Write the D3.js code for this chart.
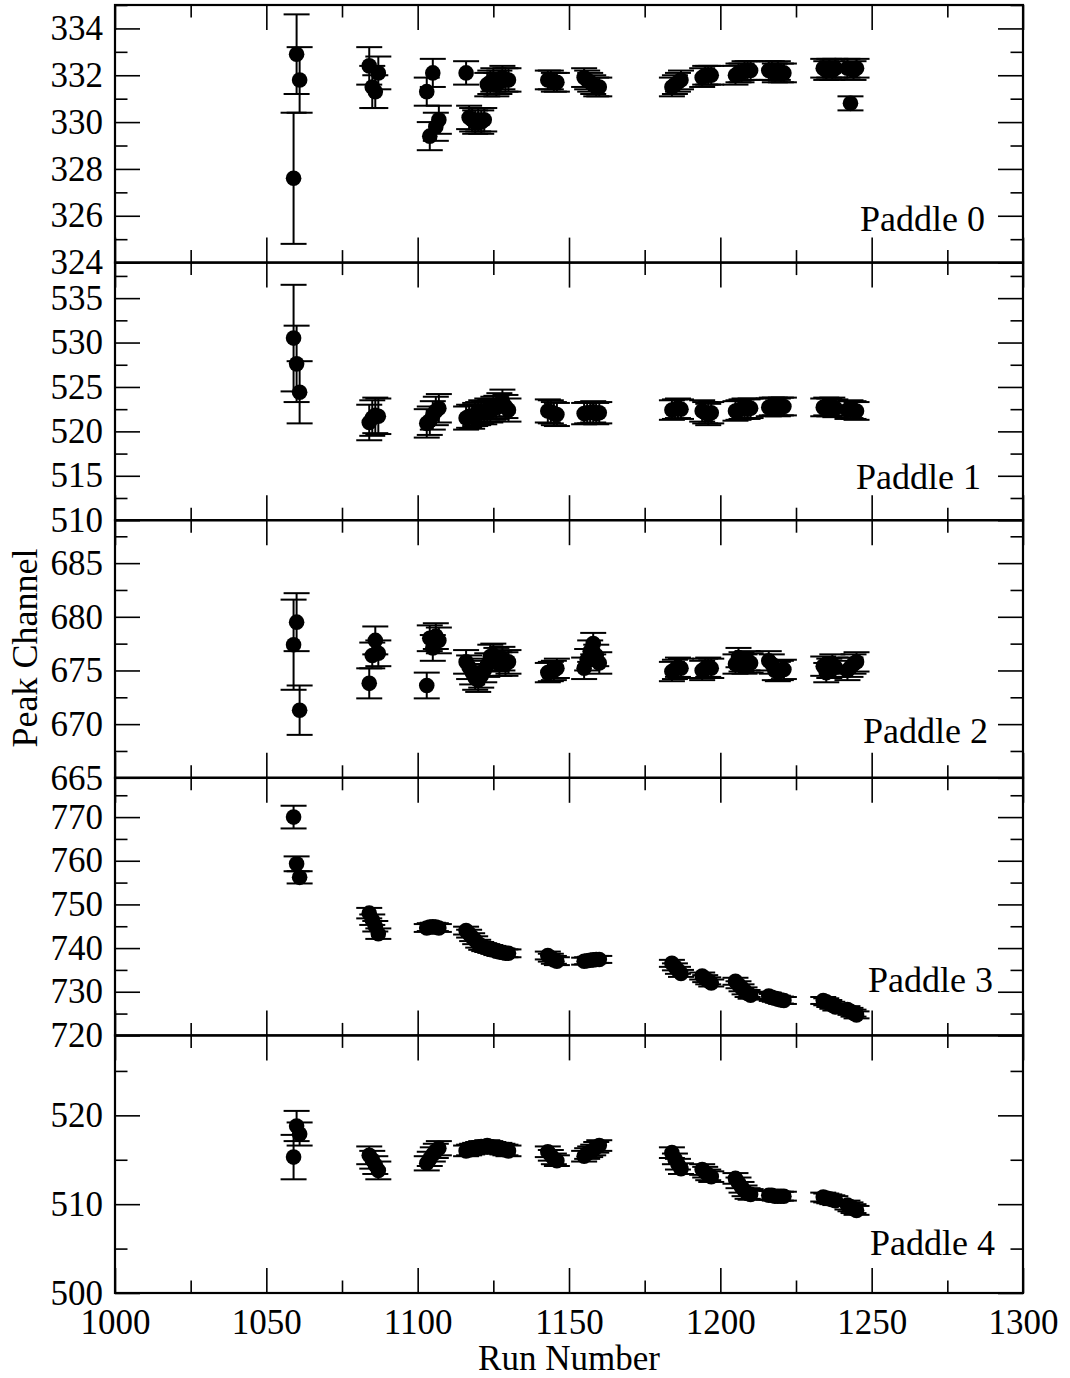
<!DOCTYPE html>
<html>
<head>
<meta charset="utf-8">
<script src="https://cdn.jsdelivr.net/npm/d3@7"></script>
<style>
body { margin: 0; background: #fff; }
svg text { font-family: "Liberation Serif", "Times New Roman", serif; fill: #000; }
</style>
</head>
<body>
<div id="chart"></div>
<script>
// run numbers (shared by all paddles)
var runs = [1059,1060,1061,
  1084,1085,1086,1087,
  1103,1104,1105,1106,1107,
  1116,1117,1118,1119,1120,1121,1122,1123,1124,1125,1126,1127,1128,1129,1130,
  1143,1144,1145,1146,
  1155,1156,1157,1158,1159,1160,
  1184,1185,1186,1187,
  1194,1195,1196,1197,
  1205,1206,1207,1208,1209,1210,
  1216,1217,1218,1219,1220,1221,
  1234,1235,1236,1237,1238,
  1242,1243,1244,1245]

var peak0 = [327.6,332.9,331.8,
  332.4,331.5,331.3,332.1,
  331.3,329.4,332.1,329.8,330.1,
  332.1,330.2,330.1,330.0,330.1,330.0,330.1,331.6,331.7,331.8,331.6,331.7,331.9,331.8,331.8,
  331.8,331.8,331.7,331.7,
  331.9,331.8,331.7,331.6,331.5,331.5,
  331.5,331.6,331.7,331.8,
  331.9,332.0,332.0,332.0,
  332.0,332.1,332.1,332.2,332.2,332.2,
  332.2,332.2,332.1,332.2,332.1,332.1,
  332.3,332.2,332.3,332.2,332.3,
  332.3,330.8,332.2,332.3]
var err0 = [2.8,1.7,1.4,
  0.8,0.9,0.7,0.7,
  0.6,0.6,0.6,0.6,0.6,
  0.5,0.5,0.5,0.5,0.5,0.5,0.5,0.5,0.5,0.5,0.5,0.5,0.5,0.5,0.5,
  0.4,0.4,0.4,0.4,
  0.4,0.4,0.4,0.4,0.4,0.4,
  0.4,0.4,0.4,0.4,
  0.4,0.4,0.4,0.4,
  0.4,0.4,0.4,0.4,0.4,0.4,
  0.4,0.4,0.4,0.4,0.4,0.4,
  0.4,0.4,0.4,0.4,0.4,
  0.4,0.3,0.4,0.4]

var peak1 = [530.5,527.6,524.4,
  521.0,521.5,521.8,521.7,
  520.9,521.2,521.8,522.3,522.6,
  521.5,521.7,521.6,521.9,522.0,522.2,522.1,522.4,522.3,522.6,522.7,523.0,523.4,522.8,522.4,
  522.3,522.2,522.0,521.9,
  522.0,522.1,522.1,522.2,522.0,522.1,
  522.4,522.5,522.6,522.5,
  522.3,522.1,521.9,522.1,
  522.3,522.4,522.5,522.6,522.5,522.6,
  522.7,522.8,522.8,522.7,522.8,522.8,
  522.7,522.8,522.7,522.8,522.6,
  522.4,522.5,522.4,522.3]
var err1 = [6.0,4.3,3.5,
  2.0,2.0,2.0,2.0,
  1.6,1.6,1.6,1.6,1.6,
  1.3,1.3,1.3,1.3,1.3,1.3,1.3,1.3,1.3,1.3,1.3,1.3,1.3,1.3,1.3,
  1.3,1.3,1.3,1.3,
  1.2,1.2,1.2,1.2,1.2,1.2,
  1.1,1.1,1.1,1.1,
  1.2,1.2,1.2,1.2,
  1.1,1.1,1.1,1.1,1.1,1.1,
  1.0,1.0,1.0,1.0,1.0,1.0,
  1.0,1.0,1.0,1.0,1.0,
  1.0,1.0,1.0,1.0]

var peak2 = [677.4,679.5,671.3,
  673.8,676.4,677.8,676.6,
  673.6,678.0,677.1,678.2,677.8,
  675.8,675.3,674.8,674.3,674.1,674.5,675.0,675.5,676.3,676.4,676.0,675.6,676.1,675.6,675.8,
  674.8,674.9,675.0,675.2,
  675.2,676.0,676.8,677.5,676.4,675.7,
  674.9,675.1,675.3,675.2,
  675.0,675.2,675.3,675.2,
  675.6,676.2,675.8,675.6,675.9,675.7,
  675.9,675.6,675.0,674.9,675.0,675.1,
  675.4,674.8,675.2,675.6,675.3,
  675.0,675.3,675.6,675.8]
var err2 = [4.2,2.7,2.3,
  1.4,1.2,1.3,1.2,
  1.2,1.2,1.2,1.2,1.2,
  1.1,1.1,1.1,1.1,1.1,1.1,1.1,1.1,1.1,1.1,1.1,1.1,1.1,1.1,1.1,
  0.9,0.9,0.9,0.9,
  1.0,1.0,1.0,1.0,1.0,1.0,
  0.9,0.9,0.9,0.9,
  0.9,0.9,0.9,0.9,
  0.9,0.9,0.9,0.9,0.9,0.9,
  0.9,0.9,0.9,0.9,0.9,0.9,
  0.9,0.9,0.9,0.9,0.9,
  0.9,0.9,0.9,0.9]

var peak3 = [770.0,759.3,756.2,
  748.0,746.5,745.0,743.3,
  744.6,744.8,744.9,744.8,744.6,
  744.0,743.3,742.5,741.8,741.0,740.5,740.2,740.0,739.8,739.6,739.3,739.1,739.0,738.8,738.8,
  738.3,737.8,737.3,737.0,
  737.0,737.1,737.2,737.3,737.4,737.4,
  736.5,735.7,734.9,734.2,
  733.6,733.0,732.5,732.0,
  732.4,731.6,730.9,730.2,729.6,729.2,
  729.0,728.7,728.5,728.3,728.1,728.0,
  728.0,727.7,727.3,726.9,726.5,
  725.9,725.5,725.1,724.7]
var err3 = [2.6,1.7,1.4,
  1.2,1.2,1.2,1.2,
  0.9,0.9,0.9,0.9,0.9,
  0.9,0.9,0.9,0.9,0.9,0.9,0.9,0.9,0.9,0.9,0.9,0.9,0.9,0.9,0.9,
  0.9,0.9,0.9,0.9,
  0.8,0.8,0.8,0.8,0.8,0.8,
  0.8,0.8,0.8,0.8,
  0.8,0.8,0.8,0.8,
  0.8,0.8,0.8,0.8,0.8,0.8,
  0.8,0.8,0.8,0.8,0.8,0.8,
  0.8,0.8,0.8,0.8,0.8,
  0.8,0.8,0.8,0.8]

var peak4 = [515.3,518.8,517.9,
  515.5,515.0,514.4,513.8,
  514.6,515.1,515.6,516.0,516.3,
  516.0,516.1,516.2,516.3,516.4,516.5,516.5,516.6,516.5,516.4,516.3,516.3,516.2,516.1,516.0,
  515.9,515.5,515.1,514.9,
  515.4,515.7,515.9,516.1,516.4,516.6,
  515.8,515.1,514.5,514.0,
  513.9,513.6,513.3,513.1,
  512.9,512.4,511.9,511.5,511.2,511.1,
  511.0,511.0,510.9,510.9,510.9,510.9,
  510.8,510.7,510.6,510.5,510.4,
  509.9,509.7,509.5,509.3]
var err4 = [2.5,1.7,1.3,
  1.0,1.0,1.0,1.0,
  0.8,0.8,0.8,0.8,0.8,
  0.6,0.6,0.6,0.6,0.6,0.6,0.6,0.6,0.6,0.6,0.6,0.6,0.6,0.6,0.6,
  0.6,0.6,0.6,0.6,
  0.6,0.6,0.6,0.6,0.6,0.6,
  0.6,0.6,0.6,0.6,
  0.6,0.6,0.6,0.6,
  0.6,0.6,0.6,0.6,0.6,0.6,
  0.5,0.5,0.5,0.5,0.5,0.5,
  0.5,0.5,0.5,0.5,0.5,
  0.5,0.5,0.5,0.5]

var paddleNames = ["Paddle 0", "Paddle 1", "Paddle 2", "Paddle 3", "Paddle 4"]
var yDomains = [[324, 335], [510, 539], [665, 689], [720, 779], [500, 529]]
var yMajorTicks = [[324,326,328,330,332,334],
  [510,515,520,525,530,535],
  [665,670,675,680,685],
  [720,730,740,750,760,770],
  [500,510,520]]
var yMinorTicks = [[325,327,329,331,333,335],
  [512.5,517.5,522.5,527.5,532.5,537.5],
  [667.5,672.5,677.5,682.5,687.5],
  [725,735,745,755,765,775],
  [505,515,525]]
var xMajorTicks = [1000,1050,1100,1150,1200,1250,1300]
var xMinorTicks = [1025,1075,1125,1175,1225,1275]

// where the paddle names sit (px, right end / baseline, relative to panel top)
var labelPos = [[870, 226], [866, 226], [873, 223], [878, 214], [880, 220]]

var W = 1070, H = 1378
var margin = {top: 5, right: 47, bottom: 85, left: 115},
    width = W - margin.left - margin.right,
    height = H - margin.top - margin.bottom,
    panelH = height / 5

var x = d3.scaleLinear().domain([1000, 1300]).range([0, width])

var svg = d3.select("#chart").append("svg")
    .attr("width", W)
    .attr("height", H)
  .append("g")
    .attr("transform", "translate(" + margin.left + "," + margin.top + ")")

var peaks = [peak0, peak1, peak2, peak3, peak4]
var errs = [err0, err1, err2, err3, err4]

function drawAxis(g, axis, tx, ty) {
  var a = g.append("g")
      .attr("transform", "translate(" + tx + "," + ty + ")")
      .call(axis)
  a.select(".domain").remove()
  a.selectAll("line").attr("stroke", "#000").attr("stroke-width", 1.6)
  a.selectAll("text").style("font-size", "35px")
  return a
}

peaks.forEach(function(vals, i) {
  var top = i * panelH
  var y = d3.scaleLinear().domain(yDomains[i]).range([top + panelH, top])
  var g = svg.append("g").attr("class", "panel")

  // left / right ticks
  drawAxis(g, d3.axisLeft(y).tickValues(yMajorTicks[i]).tickSize(-25).tickPadding(12).tickFormat(d3.format("d")), 0, 0)
  drawAxis(g, d3.axisLeft(y).tickValues(yMinorTicks[i]).tickSize(-12.5).tickFormat(""), 0, 0)
  drawAxis(g, d3.axisRight(y).tickValues(yMajorTicks[i]).tickSize(-25).tickFormat(""), width, 0)
  drawAxis(g, d3.axisRight(y).tickValues(yMinorTicks[i]).tickSize(-12.5).tickFormat(""), width, 0)

  // top / bottom ticks, labels only on the last panel
  var last = (i == peaks.length - 1)
  drawAxis(g, d3.axisBottom(x).tickValues(xMajorTicks).tickSize(-25).tickPadding(16)
      .tickFormat(last ? d3.format("d") : ""), 0, top + panelH)
  drawAxis(g, d3.axisBottom(x).tickValues(xMinorTicks).tickSize(-12.5).tickFormat(""), 0, top + panelH)
  drawAxis(g, d3.axisTop(x).tickValues(xMajorTicks).tickSize(-25).tickFormat(""), 0, top)
  drawAxis(g, d3.axisTop(x).tickValues(xMinorTicks).tickSize(-12.5).tickFormat(""), 0, top)

  g.append("rect")
      .attr("x", 0).attr("y", top)
      .attr("width", width).attr("height", panelH)
      .attr("fill", "none").attr("stroke", "#000").attr("stroke-width", 2.2)

  var pts = runs.map(function(r, j) { return {run: r, v: vals[j], e: errs[i][j]} })

  // error bars
  var bars = g.selectAll(".ebar").data(pts).enter().append("g").attr("class", "ebar")
  bars.append("line")
      .attr("x1", function(d) { return x(d.run) }).attr("x2", function(d) { return x(d.run) })
      .attr("y1", function(d) { return y(d.v + d.e) }).attr("y2", function(d) { return y(d.v - d.e) })
  bars.append("line")
      .attr("x1", function(d) { return x(d.run) - 13 }).attr("x2", function(d) { return x(d.run) + 13 })
      .attr("y1", function(d) { return y(d.v + d.e) }).attr("y2", function(d) { return y(d.v + d.e) })
  bars.append("line")
      .attr("x1", function(d) { return x(d.run) - 13 }).attr("x2", function(d) { return x(d.run) + 13 })
      .attr("y1", function(d) { return y(d.v - d.e) }).attr("y2", function(d) { return y(d.v - d.e) })
  bars.selectAll("line").attr("stroke", "#000").attr("stroke-width", 2)

  g.selectAll(".dot").data(pts).enter().append("circle")
      .attr("class", "dot")
      .attr("cx", function(d) { return x(d.run) })
      .attr("cy", function(d) { return y(d.v) })
      .attr("r", 7.8)
      .attr("fill", "#000")

  g.append("text")
      .attr("x", labelPos[i][0])
      .attr("y", top + labelPos[i][1])
      .attr("text-anchor", "end")
      .style("font-size", "36px")
      .text(paddleNames[i])
})

svg.append("text")
    .attr("transform", "rotate(-90)")
    .attr("x", -643)
    .attr("y", -78)
    .attr("text-anchor", "middle")
    .style("font-size", "36px")
    .text("Peak Channel")

svg.append("text")
    .attr("x", width / 2)
    .attr("y", height + 77)
    .attr("text-anchor", "middle")
    .style("font-size", "35px")
    .text("Run Number")
</script>
</body>
</html>
